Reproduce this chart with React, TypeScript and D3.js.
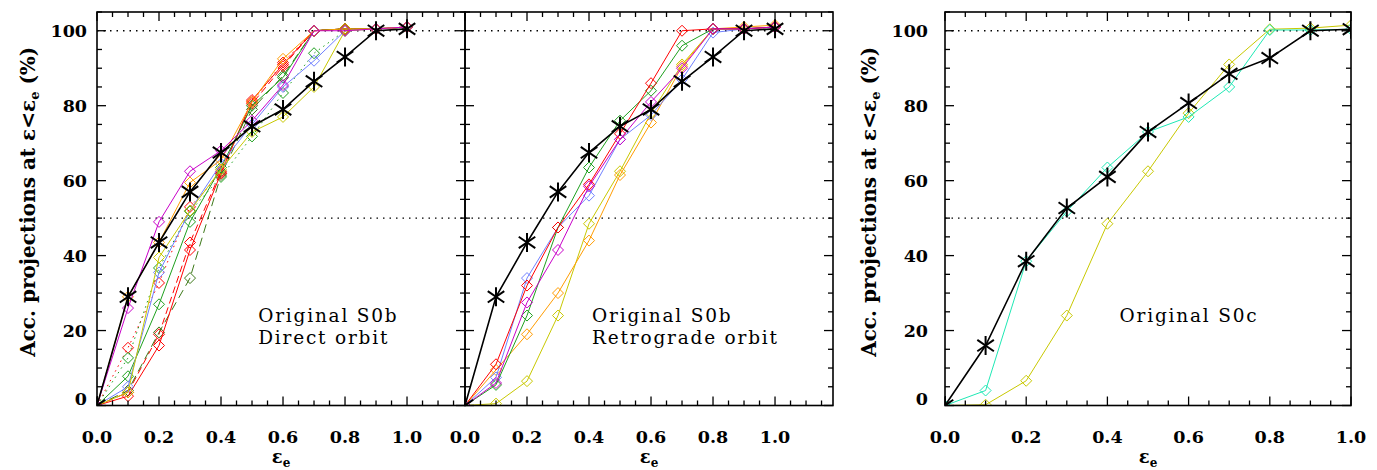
import React from 'react';
import * as d3 from 'd3';

// fraction of projections with eps < eps_e, sampled at these eps_e
const EPS = [0, 0.1, 0.2, 0.3, 0.4, 0.5, 0.6, 0.7, 0.8, 0.9, 1.0];
const X_TICKS = [0, 0.2, 0.4, 0.6, 0.8, 1.0];
const Y_TICKS = [0, 20, 40, 60, 80, 100];
const REF_LINES = [50, 100];

// reference (black asterisks), S0b
const s0bRef = [0, 29, 43.5, 57, 67.5, 74.5, 79, 86.5, 93, 100, 100.5];
// S0b direct orbit
const dirMagenta = [0, 26, 49, 62.5, 68, 76, 85.5, 100, 100, 100.5, 101];
const dirOrange = [0, 29, 43.5, 59.5, 65.5, 81, 92.5, 100, 100.5, 100.5, 101];
const dirYellow = [0, 3.5, 39.5, 52, 63, 73, 77, 85, 100, 100.5, 101];
const dirBlue = [0, 5, 35.5, 52, 64.5, 75, 85, 92, 100, 100.5, 101];
const dirGreen = [0, 7.8, 27, 49, 63.5, 80, 87.5, 100, 100.5, 100.5, 101];
const dirRed = [0, 2.5, 16, 41.5, 62, 81.5, 91, 100, 100.5, 100.5, 101];
const dirRedDash = [0, 3.5, 19, 43.5, 62.5, 80.5, 90.5, 100, 100.5, 100.5, 101];
const dirGreenDash = [0, 4, 19.5, 34, 61.5, 79, 88, 100, 100.5, 100.5, 101];
const dirRedDot = [0, 15.4, 32.7, 53, 62, 81, 91.5, 100, 100.5, 100.5, 101];
const dirGreenDot = [0, 12.7, 36.7, 51.8, 61, 71.8, 83.4, 94, 100, 100.5, 101];
// S0b retrograde orbit
const retRed = [0, 11, 32, 47.5, 59, 72.5, 86, 100, 100.5, 100.5, 101];
const retOrange = [0, 9.5, 19, 30, 44, 61.5, 75.5, 90.5, 100.5, 101, 101.5];
const retYellow = [0, 0.5, 6.5, 24, 48.5, 62.5, 78, 91, 100.5, 100.5, 101];
const retGreen = [0, 5.5, 24, 47.5, 63.5, 76, 84, 96, 100.5, 100.5, 101];
const retBlue = [0, 7.5, 34, 47.5, 56, 71, 77.5, 87, 99.5, 100.5, 101];
const retMagenta = [0, 6, 27.5, 41.5, 58.5, 71, 81, 90, 100.5, 100.5, 101];
// S0c
const s0cRef = [0, 16, 38.5, 52.7, 61, 73, 80.7, 88.5, 92.7, 100, 100.4];
const s0cCyan = [0, 4, 38.5, 51.8, 63.5, 73, 77, 85, 100.2, 100.2, 100.4];
const s0cYellow = [0, 0.2, 6.6, 24, 48.5, 62.5, 78, 91, 100.4, 100.7, 101.5];

const RED = '#ff0000';
const ORANGE = '#ff9c00';
const YELLOW = '#c8c800';
const GREEN = '#1ea01e';
const DKGREEN = '#3c7818';
const BLUE = '#7080ff';
const MAGENTA = '#c800c8';
const CYAN = '#1ee8b4';

type Series = { v: number[]; color: string; dash?: string };

const FONT = '"DejaVu Serif", serif';
const H = 470;
const TOP = 12;
const BOTTOM = 405.5;

function Asterisk({ x, y }: { x: number; y: number }) {
  const r = 9.5;
  return (
    <g transform={`translate(${x},${y})`} stroke="#000" strokeWidth={2}>
      <line x1={0} y1={-r} x2={0} y2={r} />
      <line x1={-r * 0.87} y1={-r * 0.6} x2={r * 0.87} y2={r * 0.6} />
      <line x1={-r * 0.87} y1={r * 0.6} x2={r * 0.87} y2={-r * 0.6} />
    </g>
  );
}

function Panel(props: {
  x0: number;
  x1: number;
  xmax: number;
  series: Series[];
  ref: number[];
  lines: string[];
  textX: number;
  yLabels: boolean;
  yLabelRight: number;
  titleX: number;
}) {
  const { x0, x1, xmax, series, lines, textX, yLabels, yLabelRight, titleX } = props;
  const refVals = props.ref;
  const x = d3.scaleLinear().domain([0, xmax]).range([x0, x1]);
  const y = d3.scaleLinear().domain([0, 105]).range([BOTTOM, TOP]);
  const line = d3
    .line<number>()
    .x((_, i) => x(EPS[i]))
    .y((d) => y(d));

  const xMinor = d3.range(0, xmax + 1e-6, 0.05);
  const yMinor = d3.range(0, 105.01, 5);
  const isMajX = (t: number) => Math.abs(t * 5 - Math.round(t * 5)) < 1e-6;
  const cx = (x0 + x1) / 2;

  return (
    <g>
      <defs>
        <clipPath id={`clip${x0}`}>
          <rect x={x0} y={TOP} width={x1 - x0} height={BOTTOM - TOP} />
        </clipPath>
      </defs>
      {REF_LINES.map((r) => (
        <line
          key={r}
          x1={x0}
          x2={x1}
          y1={y(r)}
          y2={y(r)}
          stroke="#000"
          strokeWidth={1.3}
          strokeDasharray="1.5 5"
        />
      ))}
      <g clipPath={`url(#clip${x0})`}>
        {series.map((s, i) => (
          <g key={i}>
            <path d={line(s.v) || ''} fill="none" stroke={s.color} strokeWidth={1} strokeDasharray={s.dash} />
            {s.v.map((v, j) => {
              const px = x(EPS[j]);
              const py = y(v);
              const r = 5.5;
              return (
                <path
                  key={j}
                  d={`M${px},${py - r}L${px + r},${py}L${px},${py + r}L${px - r},${py}Z`}
                  fill="none"
                  stroke={s.color}
                  strokeWidth={1}
                />
              );
            })}
          </g>
        ))}
        <path d={line(refVals) || ''} fill="none" stroke="#000" strokeWidth={1.6} />
        {refVals.map((v, j) => (
          <Asterisk key={j} x={x(EPS[j])} y={y(v)} />
        ))}
      </g>
      {/* frame and ticks */}
      <rect x={x0} y={TOP} width={x1 - x0} height={BOTTOM - TOP} fill="none" stroke="#000" strokeWidth={1.6} />
      {xMinor.map((t, i) => {
        const len = isMajX(t) ? 9 : 5;
        return (
          <g key={'xt' + i} stroke="#000" strokeWidth={1.3}>
            <line x1={x(t)} x2={x(t)} y1={BOTTOM} y2={BOTTOM - len} />
            <line x1={x(t)} x2={x(t)} y1={TOP} y2={TOP + len} />
          </g>
        );
      })}
      {yMinor.map((t, i) => {
        const len = t % 20 === 0 ? 9 : 5;
        return (
          <g key={'yt' + i} stroke="#000" strokeWidth={1.3}>
            <line x1={x0} x2={x0 + len} y1={y(t)} y2={y(t)} />
            <line x1={x1} x2={x1 - len} y1={y(t)} y2={y(t)} />
          </g>
        );
      })}
      {X_TICKS.map((t) => (
        <text
          key={'xl' + t}
          x={x(t)}
          y={443}
          textAnchor="middle"
          fontFamily={FONT}
          fontWeight="bold"
          fontSize={17.5}
        >
          {t.toFixed(1)}
        </text>
      ))}
      {yLabels &&
        Y_TICKS.map((t) => (
          <text
            key={'yl' + t}
            x={yLabelRight}
            y={Math.min(y(t), BOTTOM - 7) + 6}
            textAnchor="end"
            fontFamily={FONT}
            fontWeight="bold"
            fontSize={17.5}
          >
            {t}
          </text>
        ))}
      {yLabels && (
        <text
          transform={`translate(${titleX},${(TOP + BOTTOM) / 2 - 7}) rotate(-90)`}
          textAnchor="middle"
          fontFamily={FONT}
          fontWeight="bold"
          fontSize={20}
        >
          Acc. projections at ε&lt;ε
          <tspan fontSize={13} dy={4}>e</tspan>
          <tspan dy={-4}> (%)</tspan>
        </text>
      )}
      <text x={cx} y={463} textAnchor="middle" fontFamily={FONT} fontWeight="bold" fontSize={18}>
        ε<tspan fontSize={12} dy={4}>e</tspan>
      </text>
      {lines.map((l, i) => (
        <text
          key={i}
          x={x(textX)}
          y={y(22.4) + i * 22}
          fontFamily={FONT}
          fontSize={18.5}
          letterSpacing={1.8}
        >
          {l}
        </text>
      ))}
    </g>
  );
}

export default function App() {
  const direct: Series[] = [
    { v: dirRedDot, color: RED, dash: '1.5 4' },
    { v: dirGreenDot, color: GREEN, dash: '1.5 4' },
    { v: dirRedDash, color: RED, dash: '7 4' },
    { v: dirGreenDash, color: DKGREEN, dash: '9 5' },
    { v: dirRed, color: RED },
    { v: dirGreen, color: GREEN },
    { v: dirBlue, color: BLUE },
    { v: dirYellow, color: YELLOW },
    { v: dirOrange, color: ORANGE },
    { v: dirMagenta, color: MAGENTA },
  ];
  const retro: Series[] = [
    { v: retYellow, color: YELLOW },
    { v: retOrange, color: ORANGE },
    { v: retBlue, color: BLUE },
    { v: retGreen, color: GREEN },
    { v: retRed, color: RED },
    { v: retMagenta, color: MAGENTA },
  ];
  const s0c: Series[] = [
    { v: s0cYellow, color: YELLOW },
    { v: s0cCyan, color: CYAN },
  ];
  return (
    <svg
      width={1377}
      height={H}
      style={{ position: 'absolute', left: 0, top: 0, background: '#fff' }}
    >
      <rect width={1377} height={H} fill="#fff" />
      <Panel
        x0={97}
        x1={465}
        xmax={1.187}
        series={direct}
        ref={s0bRef}
        lines={['Original S0b', 'Direct orbit']}
        textX={0.52}
        yLabels={true}
        yLabelRight={87}
        titleX={35}
      />
      <Panel
        x0={465}
        x1={833}
        xmax={1.187}
        series={retro}
        ref={s0bRef}
        lines={['Original S0b', 'Retrograde orbit']}
        textX={0.41}
        yLabels={false}
        yLabelRight={0}
        titleX={0}
      />
      <Panel
        x0={945}
        x1={1351}
        xmax={1.0}
        series={s0c}
        ref={s0cRef}
        lines={['Original S0c']}
        textX={0.43}
        yLabels={true}
        yLabelRight={928}
        titleX={876}
      />
    </svg>
  );
}
